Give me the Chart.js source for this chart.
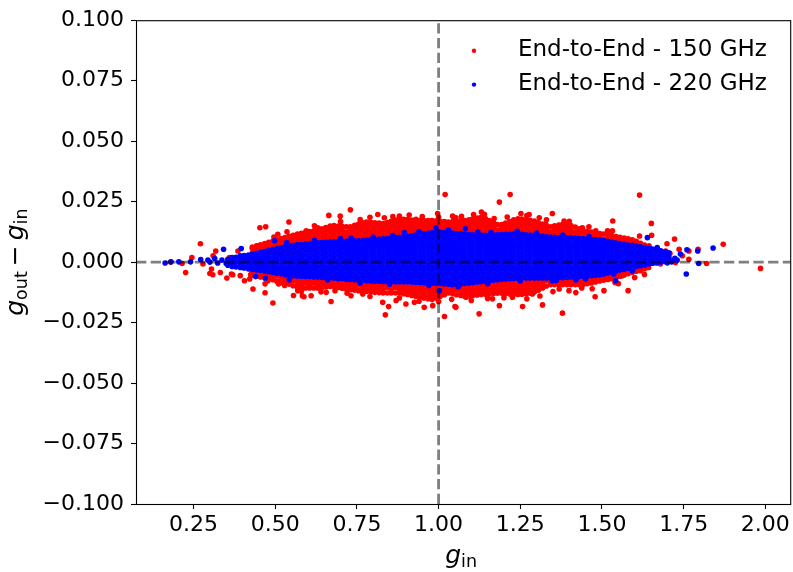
<!DOCTYPE html>
<html>
<head>
<meta charset="utf-8">
<title>g_out - g_in vs g_in</title>
<script src="https://cdn.jsdelivr.net/npm/chart.js@4/dist/chart.umd.min.js"></script>
<style>
  html, body { margin: 0; padding: 0; background: #fff; }
  #wrap { width: 793px; height: 572px; }
</style>
</head>
<body>
<div id="wrap"><canvas id="c" width="793" height="572"></canvas></div>
<script>
// Axis ranges and tick positions
const xRange = [0.074, 2.076];
const yRange = [-0.1, 0.1];
const xTickValues = [0.25, 0.50, 0.75, 1.00, 1.25, 1.50, 1.75, 2.00];
const yTickValues = [-0.100, -0.075, -0.050, -0.025, 0.000, 0.025, 0.050, 0.075, 0.100];

// Reference lines: ideal gain (g_in = 1) and zero residual
const refX = 1.0;
const refY = 0.0;

const seriesNames = ['End-to-End - 150 GHz', 'End-to-End - 220 GHz'];
const seriesColors = ['#ff0000', '#0000ff'];

// Residuals are stored in units of 1e-3. Dense part of each cloud is listed
// column by column as [g_in, [residuals...]]; isolated detectors as [g_in, residual].

// 220 GHz, dense band
const blueColumns = [
[0.355,[-1.3,0,1.2]],
[0.368,[-1.8,-1.0,1.0,1.9]],
[0.380,[-2.0,0,2.0]],
[0.393,[-2.2,-1.0,1.0,2.6]],
[0.405,[-2.4,-1.9,0,1.9,2.7]],
[0.418,[-2.8,-1.0,1.0,2.9]],
[0.430,[-3.0,-1.9,0,1.9,3.2]],
[0.443,[-3.3,-2.9,-1.0,1.0,2.9,3.6]],
[0.455,[-3.5,-1.9,0,1.9,3.9]],
[0.468,[-3.7,-2.9,-1.0,1.0,2.9,4.4]],
[0.480,[-4.0,-1.9,0,1.9,3.8,4.9]],
[0.493,[-4.3,-2.9,-1.0,1.0,2.9,4.8,5.2]],
[0.505,[-4.6,-3.8,-1.9,0,1.9,3.8,5.6]],
[0.518,[-4.8,-2.9,-1.0,1.0,2.9,4.8,5.9]],
[0.530,[-5.2,-3.8,-1.9,0,1.9,3.8,5.7,6.3]],
[0.543,[-5.3,-4.8,-2.9,-1.0,1.0,2.9,4.8,6.6]],
[0.555,[-5.6,-3.8,-1.9,0,1.9,3.8,5.7,6.9]],
[0.568,[-5.7,-4.8,-2.9,-1.0,1.0,2.9,4.8,6.7,7.2]],
[0.580,[-5.8,-3.8,-1.9,0,1.9,3.8,5.7,7.3]],
[0.593,[-6.0,-4.8,-2.9,-1.0,1.0,2.9,4.8,6.7,7.5]],
[0.605,[-6.0,-5.7,-3.8,-1.9,0,1.9,3.8,5.7,7.6]],
[0.618,[-6.2,-4.8,-2.9,-1.0,1.0,2.9,4.8,6.7,7.8]],
[0.630,[-6.2,-5.7,-3.8,-1.9,0,1.9,3.8,5.7,7.6,8.0]],
[0.643,[-6.3,-4.8,-2.9,-1.0,1.0,2.9,4.8,6.7,8.1]],
[0.655,[-6.4,-5.7,-3.8,-1.9,0,1.9,3.8,5.7,7.6,8.2]],
[0.668,[-6.5,-4.8,-2.9,-1.0,1.0,2.9,4.8,6.7,8.3]],
[0.680,[-6.6,-5.7,-3.8,-1.9,0,1.9,3.8,5.7,7.6,8.4]],
[0.693,[-6.9,-4.8,-2.9,-1.0,1.0,2.9,4.8,6.7,8.5]],
[0.705,[-6.8,-5.7,-3.8,-1.9,0,1.9,3.8,5.7,7.6,8.5]],
[0.718,[-7.1,-6.7,-4.8,-2.9,-1.0,1.0,2.9,4.8,6.7,8.6]],
[0.730,[-7.2,-5.7,-3.8,-1.9,0,1.9,3.8,5.7,7.6,8.7]],
[0.743,[-7.3,-6.7,-4.8,-2.9,-1.0,1.0,2.9,4.8,6.7,8.8]],
[0.755,[-7.5,-5.7,-3.8,-1.9,0,1.9,3.8,5.7,7.6,8.8]],
[0.768,[-7.6,-6.7,-4.8,-2.9,-1.0,1.0,2.9,4.8,6.7,8.9]],
[0.780,[-7.7,-5.7,-3.8,-1.9,0,1.9,3.8,5.7,7.6,9.0]],
[0.793,[-7.8,-6.7,-4.8,-2.9,-1.0,1.0,2.9,4.8,6.7,8.6,9.1]],
[0.805,[-7.9,-7.6,-5.7,-3.8,-1.9,0,1.9,3.8,5.7,7.6,9.3]],
[0.818,[-7.9,-6.7,-4.8,-2.9,-1.0,1.0,2.9,4.8,6.7,8.6,9.5]],
[0.830,[-8.0,-7.6,-5.7,-3.8,-1.9,0,1.9,3.8,5.7,7.6,9.6]],
[0.843,[-8.0,-6.7,-4.8,-2.9,-1.0,1.0,2.9,4.8,6.7,8.6,9.7]],
[0.855,[-8.0,-7.6,-5.7,-3.8,-1.9,0,1.9,3.8,5.7,7.6,9.5,9.9]],
[0.868,[-8.1,-6.7,-4.8,-2.9,-1.0,1.0,2.9,4.8,6.7,8.6,10.1]],
[0.880,[-8.1,-7.6,-5.7,-3.8,-1.9,0,1.9,3.8,5.7,7.6,9.5,10.3]],
[0.893,[-8.1,-6.7,-4.8,-2.9,-1.0,1.0,2.9,4.8,6.7,8.6,10.5]],
[0.905,[-8.1,-7.6,-5.7,-3.8,-1.9,0,1.9,3.8,5.7,7.6,9.5,10.7]],
[0.918,[-8.2,-6.7,-4.8,-2.9,-1.0,1.0,2.9,4.8,6.7,8.6,10.5,10.9]],
[0.930,[-8.3,-7.6,-5.7,-3.8,-1.9,0,1.9,3.8,5.7,7.6,9.5,11.2]],
[0.943,[-8.4,-6.7,-4.8,-2.9,-1.0,1.0,2.9,4.8,6.7,8.6,10.5,11.4]],
[0.955,[-8.5,-7.6,-5.7,-3.8,-1.9,0,1.9,3.8,5.7,7.6,9.5,11.4,11.7]],
[0.968,[-8.6,-6.7,-4.8,-2.9,-1.0,1.0,2.9,4.8,6.7,8.6,10.5,11.9]],
[0.980,[-8.7,-7.6,-5.7,-3.8,-1.9,0,1.9,3.8,5.7,7.6,9.5,11.4,12.1]],
[0.993,[-8.8,-6.7,-4.8,-2.9,-1.0,1.0,2.9,4.8,6.7,8.6,10.5,12.3]],
[1.005,[-8.8,-7.6,-5.7,-3.8,-1.9,0,1.9,3.8,5.7,7.6,9.5,11.4,12.3]],
[1.018,[-9.0,-8.6,-6.7,-4.8,-2.9,-1.0,1.0,2.9,4.8,6.7,8.6,10.5,12.2]],
[1.030,[-9.1,-7.6,-5.7,-3.8,-1.9,0,1.9,3.8,5.7,7.6,9.5,11.4,12.1]],
[1.043,[-9.2,-8.6,-6.7,-4.8,-2.9,-1.0,1.0,2.9,4.8,6.7,8.6,10.5,12.0]],
[1.055,[-9.2,-7.6,-5.7,-3.8,-1.9,0,1.9,3.8,5.7,7.6,9.5,11.4,11.8]],
[1.068,[-9.0,-8.6,-6.7,-4.8,-2.9,-1.0,1.0,2.9,4.8,6.7,8.6,10.5,11.7]],
[1.080,[-8.8,-7.6,-5.7,-3.8,-1.9,0,1.9,3.8,5.7,7.6,9.5,11.5]],
[1.093,[-8.6,-6.7,-4.8,-2.9,-1.0,1.0,2.9,4.8,6.7,8.6,10.5,11.4]],
[1.105,[-8.4,-7.6,-5.7,-3.8,-1.9,0,1.9,3.8,5.7,7.6,9.5,11.3]],
[1.118,[-8.2,-6.7,-4.8,-2.9,-1.0,1.0,2.9,4.8,6.7,8.6,10.5,11.2]],
[1.130,[-8.0,-7.6,-5.7,-3.8,-1.9,0,1.9,3.8,5.7,7.6,9.5,11.2]],
[1.143,[-7.9,-6.7,-4.8,-2.9,-1.0,1.0,2.9,4.8,6.7,8.6,10.5,11.1]],
[1.155,[-7.7,-5.7,-3.8,-1.9,0,1.9,3.8,5.7,7.6,9.5,11.1]],
[1.168,[-7.5,-6.7,-4.8,-2.9,-1.0,1.0,2.9,4.8,6.7,8.6,10.5,11.2]],
[1.180,[-7.3,-5.7,-3.8,-1.9,0,1.9,3.8,5.7,7.6,9.5,11.3]],
[1.193,[-7.1,-6.7,-4.8,-2.9,-1.0,1.0,2.9,4.8,6.7,8.6,10.5,11.4]],
[1.205,[-7.0,-5.7,-3.8,-1.9,0,1.9,3.8,5.7,7.6,9.5,11.5]],
[1.218,[-6.9,-4.8,-2.9,-1.0,1.0,2.9,4.8,6.7,8.6,10.5,11.5]],
[1.230,[-6.8,-5.7,-3.8,-1.9,0,1.9,3.8,5.7,7.6,9.5,11.6]],
[1.243,[-6.7,-4.8,-2.9,-1.0,1.0,2.9,4.8,6.7,8.6,10.5,11.6]],
[1.255,[-6.6,-5.7,-3.8,-1.9,0,1.9,3.8,5.7,7.6,9.5,11.5]],
[1.268,[-6.6,-4.8,-2.9,-1.0,1.0,2.9,4.8,6.7,8.6,10.5,11.3]],
[1.280,[-6.6,-5.7,-3.8,-1.9,0,1.9,3.8,5.7,7.6,9.5,11.2]],
[1.293,[-6.6,-4.8,-2.9,-1.0,1.0,2.9,4.8,6.7,8.6,10.5,11.0]],
[1.305,[-6.6,-5.7,-3.8,-1.9,0,1.9,3.8,5.7,7.6,9.5,10.8]],
[1.318,[-6.6,-4.8,-2.9,-1.0,1.0,2.9,4.8,6.7,8.6,10.7]],
[1.330,[-6.6,-5.7,-3.8,-1.9,0,1.9,3.8,5.7,7.6,9.5,10.5]],
[1.343,[-6.6,-4.8,-2.9,-1.0,1.0,2.9,4.8,6.7,8.6,10.4]],
[1.355,[-6.5,-5.7,-3.8,-1.9,0,1.9,3.8,5.7,7.6,9.5,10.3]],
[1.368,[-6.4,-4.8,-2.9,-1.0,1.0,2.9,4.8,6.7,8.6,10.2]],
[1.380,[-6.4,-5.7,-3.8,-1.9,0,1.9,3.8,5.7,7.6,9.5,10.1]],
[1.393,[-6.3,-4.8,-2.9,-1.0,1.0,2.9,4.8,6.7,8.6,10.0]],
[1.405,[-6.2,-5.7,-3.8,-1.9,0,1.9,3.8,5.7,7.6,9.9]],
[1.418,[-6.1,-4.8,-2.9,-1.0,1.0,2.9,4.8,6.7,8.6,9.8]],
[1.430,[-6.0,-5.7,-3.8,-1.9,0,1.9,3.8,5.7,7.6,9.7]],
[1.443,[-5.9,-4.8,-2.9,-1.0,1.0,2.9,4.8,6.7,8.6,9.6]],
[1.455,[-5.7,-3.8,-1.9,0,1.9,3.8,5.7,7.6,9.5]],
[1.468,[-5.5,-4.8,-2.9,-1.0,1.0,2.9,4.8,6.7,8.6,9.3]],
[1.480,[-5.4,-3.8,-1.9,0,1.9,3.8,5.7,7.6,9.2]],
[1.493,[-5.2,-4.8,-2.9,-1.0,1.0,2.9,4.8,6.7,8.6,9.1]],
[1.505,[-4.9,-3.8,-1.9,0,1.9,3.8,5.7,7.6,8.9]],
[1.518,[-4.5,-2.9,-1.0,1.0,2.9,4.8,6.7,8.6]],
[1.530,[-4.1,-3.8,-1.9,0,1.9,3.8,5.7,7.6,8.3]],
[1.543,[-3.7,-2.9,-1.0,1.0,2.9,4.8,6.7,8.0]],
[1.555,[-3.3,-1.9,0,1.9,3.8,5.7,7.6]],
[1.568,[-2.9,-1.0,1.0,2.9,4.8,6.7,7.4]],
[1.580,[-2.5,-1.9,0,1.9,3.8,5.7,7.1]],
[1.593,[-2.1,-1.0,1.0,2.9,4.8,6.9]],
[1.605,[-1.8,0,1.9,3.8,5.7,6.6]],
[1.618,[-1.5,-1.0,1.0,2.9,4.8,6.3]],
[1.630,[-1.2,0,1.9,3.8,5.7,6.0]],
[1.643,[-0.8,1.0,2.9,4.8,5.7]],
[1.655,[-0.5,0,1.9,3.8,5.4]],
[1.668,[-0.3,1.0,2.9,4.8,5.1]],
[1.680,[0,1.9,3.8,4.7]],
[1.693,[0.2,1.0,2.9,4.3]],
[1.705,[0.5,1.9,3.8]]
];

// 220 GHz, isolated detectors
const blueStray = [
[0.163,-0.4],[0.181,0.1],[0.205,0.1],[0.241,0.1],[0.272,1.1],[0.294,0.8],[0.300,0.0],
[0.315,1.5],[0.324,-0.4],[0.337,0.8],[0.342,5.3],[0.350,-0.6],[0.396,5.6],[0.440,-6.0],
[0.470,-6.6],[0.498,8.8],[0.535,8.1],[0.543,-7.3],[0.732,9.9],[0.895,12.2],[0.992,14.2],
[1.002,-11.8],[1.041,-9.3],[1.082,13.8],[1.160,12.2],[1.348,-7.7],[1.420,-7.3],[1.496,-4.9],
[1.536,-4.9],[1.542,-7.7],[1.567,-2.9],[1.593,-3.6],[1.623,-0.8],[1.639,10.1],[1.648,0.5],
[1.669,6.0],[1.676,1.6],[1.695,3.9],[1.700,-0.3],[1.713,0.1],[1.723,1.6],[1.730,0.8],
[1.740,3.3],[1.758,-4.9],[1.760,5.1],[1.793,4.6],[1.796,-0.6],[1.840,5.8],
[0.620,9.0],[0.700,9.6],[0.800,10.4],[0.860,11.0],[0.940,12.6],[1.030,13.2],[1.120,12.4],
[1.240,12.7],[1.300,12.0],[1.380,11.2],[1.460,10.6],[0.660,-7.4],[0.760,-8.6],[0.850,-9.1],
[0.970,-9.7],[1.060,-10.2],[1.150,-8.9],[1.250,-7.7],[1.360,-7.6],[1.450,-6.9]
];

// 150 GHz, dense band (the part not hidden under the 220 GHz band)
const redColumns = [
[0.430,[-5.4,-3.8,-1.9,1.9,3.8,5.7,6.2]],
[0.443,[-5.8,-4.8,-2.9,2.9,4.8,6.7]],
[0.455,[-6.2,-5.7,-3.8,-1.9,3.8,5.7,7.2]],
[0.468,[-6.6,-4.8,-2.9,2.9,4.8,6.7,7.7]],
[0.480,[-6.9,-5.7,-3.8,3.8,5.7,7.6,8.2]],
[0.493,[-7.3,-6.7,-4.8,-2.9,4.8,6.7,8.7]],
[0.505,[-7.9,-5.7,-3.8,3.8,5.7,7.6,9.2]],
[0.518,[-8.3,-6.7,-4.8,-2.9,4.8,6.7,8.6,9.7]],
[0.530,[-8.6,-7.6,-5.7,-3.8,5.7,7.6,9.5,10.2]],
[0.543,[-9.1,-8.6,-6.7,-4.8,4.8,6.7,8.6,10.7]],
[0.555,[-9.8,-7.6,-5.7,-3.8,5.7,7.6,9.5,11.1]],
[0.568,[-10.4,-8.6,-6.7,-4.8,6.7,8.6,10.5,11.6]],
[0.580,[-10.7,-9.5,-7.6,-5.7,-3.8,5.7,7.6,9.5,11.4,11.9]],
[0.593,[-10.7,-8.6,-6.7,-4.8,6.7,8.6,10.5,12.3]],
[0.605,[-10.7,-9.5,-7.6,-5.7,5.7,7.6,9.5,11.4,12.6]],
[0.618,[-10.7,-8.6,-6.7,-4.8,6.7,8.6,10.5,12.4,12.9]],
[0.630,[-10.7,-9.5,-7.6,-5.7,7.6,9.5,11.4,13.2]],
[0.643,[-10.5,-8.6,-6.7,-4.8,6.7,8.6,10.5,12.4,13.8]],
[0.655,[-10.3,-9.5,-7.6,-5.7,7.6,9.5,11.4,13.3,14.3]],
[0.668,[-10.1,-8.6,-6.7,-4.8,6.7,8.6,10.5,12.4,14.3,14.9]],
[0.680,[-10.1,-9.5,-7.6,-5.7,7.6,9.5,11.4,13.3,15.1]],
[0.693,[-10.5,-8.6,-6.7,6.7,8.6,10.5,12.4,14.3,14.9]],
[0.705,[-10.8,-9.5,-7.6,-5.7,7.6,9.5,11.4,13.3,14.8]],
[0.718,[-11.2,-10.5,-8.6,-6.7,6.7,8.6,10.5,12.4,14.6]],
[0.730,[-11.4,-9.5,-7.6,-5.7,7.6,9.5,11.4,13.3,14.6]],
[0.743,[-11.6,-10.5,-8.6,-6.7,8.6,10.5,12.4,14.3,15.2]],
[0.755,[-11.8,-9.5,-7.6,-5.7,7.6,9.5,11.4,13.3,15.2,15.7]],
[0.768,[-12.0,-10.5,-8.6,-6.7,8.6,10.5,12.4,14.3,16.2]],
[0.780,[-12.1,-11.4,-9.5,-7.6,-5.7,7.6,9.5,11.4,13.3,15.2,16.6]],
[0.793,[-12.3,-10.5,-8.6,-6.7,8.6,10.5,12.4,14.3,16.4]],
[0.805,[-12.5,-11.4,-9.5,-7.6,7.6,9.5,11.4,13.3,15.2,16.2]],
[0.818,[-12.6,-10.5,-8.6,-6.7,8.6,10.5,12.4,14.3,16.1]],
[0.830,[-12.8,-11.4,-9.5,-7.6,9.5,11.4,13.3,15.2,15.9]],
[0.843,[-12.8,-10.5,-8.6,-6.7,8.6,10.5,12.4,14.3,16.4]],
[0.855,[-12.8,-11.4,-9.5,-7.6,9.5,11.4,13.3,15.2,16.9]],
[0.868,[-12.8,-10.5,-8.6,-6.7,8.6,10.5,12.4,14.3,16.2,17.4]],
[0.880,[-12.8,-11.4,-9.5,-7.6,9.5,11.4,13.3,15.2,17.1,17.9]],
[0.893,[-13.1,-12.4,-10.5,-8.6,-6.7,8.6,10.5,12.4,14.3,16.2,17.7]],
[0.905,[-13.4,-11.4,-9.5,-7.6,9.5,11.4,13.3,15.2,17.1,17.6]],
[0.918,[-13.8,-12.4,-10.5,-8.6,-6.7,10.5,12.4,14.3,16.2,17.4]],
[0.930,[-14.1,-13.3,-11.4,-9.5,-7.6,9.5,11.4,13.3,15.2,17.2]],
[0.943,[-14.4,-12.4,-10.5,-8.6,-6.7,10.5,12.4,14.3,16.2,17.2]],
[0.955,[-14.8,-13.3,-11.4,-9.5,-7.6,11.4,13.3,15.2,17.2]],
[0.968,[-15.1,-14.3,-12.4,-10.5,-8.6,10.5,12.4,14.3,16.2,17.2]],
[0.980,[-15.5,-13.3,-11.4,-9.5,-7.6,11.4,13.3,15.2,17.2]],
[0.993,[-14.8,-14.3,-12.4,-10.5,-8.6,10.5,12.4,14.3,16.2,17.1]],
[1.005,[-14.1,-13.3,-11.4,-9.5,-7.6,11.4,13.3,15.2,16.9]],
[1.018,[-13.5,-12.4,-10.5,-8.6,10.5,12.4,14.3,16.2,16.8]],
[1.030,[-12.8,-11.4,-9.5,-7.6,11.4,13.3,15.2,16.6]],
[1.043,[-13.1,-12.4,-10.5,-8.6,10.5,12.4,14.3,16.2,16.8]],
[1.055,[-13.5,-11.4,-9.5,-7.6,11.4,13.3,15.2,16.9]],
[1.068,[-13.8,-12.4,-10.5,-8.6,10.5,12.4,14.3,16.2,17.1]],
[1.080,[-14.1,-13.3,-11.4,-9.5,-7.6,11.4,13.3,15.2,17.2]],
[1.093,[-14.0,-12.4,-10.5,-8.6,-6.7,10.5,12.4,14.3,16.2,17.5]],
[1.105,[-13.8,-13.3,-11.4,-9.5,-7.6,9.5,11.4,13.3,15.2,17.1,17.9]],
[1.118,[-13.6,-12.4,-10.5,-8.6,-6.7,10.5,12.4,14.3,16.2,18.2]],
[1.130,[-13.4,-11.4,-9.5,-7.6,9.5,11.4,13.3,15.2,17.1,18.5]],
[1.143,[-13.3,-12.4,-10.5,-8.6,-6.7,10.5,12.4,14.3,16.2,18.0]],
[1.155,[-13.2,-11.4,-9.5,-7.6,9.5,11.4,13.3,15.2,17.2]],
[1.168,[-13.0,-12.4,-10.5,-8.6,-6.7,10.5,12.4,14.3,16.4]],
[1.180,[-12.9,-11.4,-9.5,-7.6,-5.7,9.5,11.4,13.3,15.5]],
[1.193,[-12.9,-12.4,-10.5,-8.6,-6.7,10.5,12.4,14.3,15.5]],
[1.205,[-13.0,-11.4,-9.5,-7.6,-5.7,9.5,11.4,13.3,15.2,16.1]],
[1.218,[-13.2,-12.4,-10.5,-8.6,-6.7,10.5,12.4,14.3,16.2,16.8]],
[1.230,[-13.3,-11.4,-9.5,-7.6,-5.7,11.4,13.3,15.2,17.1,17.5]],
[1.243,[-13.4,-12.4,-10.5,-8.6,-6.7,-4.8,10.5,12.4,14.3,16.2,17.9]],
[1.255,[-13.3,-11.4,-9.5,-7.6,-5.7,9.5,11.4,13.3,15.2,17.1,17.8]],
[1.268,[-13.1,-12.4,-10.5,-8.6,-6.7,-4.8,10.5,12.4,14.3,16.2,17.5]],
[1.280,[-12.9,-11.4,-9.5,-7.6,-5.7,9.5,11.4,13.3,15.2,17.3]],
[1.293,[-12.4,-10.5,-8.6,-6.7,-4.8,10.5,12.4,14.3,16.2,17.0]],
[1.305,[-11.6,-11.4,-9.5,-7.6,-5.7,9.5,11.4,13.3,15.2,16.4]],
[1.318,[-10.7,-10.5,-8.6,-6.7,-4.8,10.5,12.4,14.3,15.7]],
[1.330,[-9.9,-7.6,-5.7,9.5,11.4,13.3,15.0]],
[1.343,[-9.3,-8.6,-6.7,-4.8,8.6,10.5,12.4,14.6]],
[1.355,[-9.3,-7.6,-5.7,9.5,11.4,13.3,15.0]],
[1.368,[-9.3,-8.6,-6.7,-4.8,8.6,10.5,12.4,14.3,15.3]],
[1.380,[-9.3,-7.6,-5.7,9.5,11.4,13.3,15.2,15.6]],
[1.393,[-9.3,-8.6,-6.7,-4.8,8.6,10.5,12.4,14.3,15.7]],
[1.405,[-9.3,-7.6,-5.7,9.5,11.4,13.3,15.1]],
[1.418,[-9.3,-8.6,-6.7,-4.8,8.6,10.5,12.4,14.5]],
[1.430,[-9.3,-7.6,-5.7,9.5,11.4,13.3,13.8]],
[1.443,[-9.2,-8.6,-6.7,-4.8,8.6,10.5,12.4,13.0]],
[1.455,[-8.9,-7.6,-5.7,-3.8,7.6,9.5,11.4,12.7]],
[1.468,[-8.6,-6.7,-4.8,8.6,10.5,12.4]],
[1.480,[-8.2,-7.6,-5.7,-3.8,7.6,9.5,11.4,12.1]],
[1.493,[-7.8,-6.7,-4.8,8.6,10.5,11.8]],
[1.505,[-7.5,-5.7,-3.8,7.6,9.5,11.6]],
[1.518,[-7.2,-6.7,-4.8,-2.9,6.7,8.6,10.5,11.4]],
[1.530,[-6.9,-5.7,-3.8,7.6,9.5,11.0]],
[1.543,[-6.4,-4.8,-2.9,6.7,8.6,10.6]],
[1.555,[-5.8,-3.8,-1.9,5.7,7.6,9.5,10.3]],
[1.568,[-5.3,-4.8,-2.9,-1.0,6.7,8.6,9.9]],
[1.580,[-4.8,-3.8,-1.9,5.7,7.6,9.6]],
[1.593,[-4.2,-2.9,-1.0,6.7,8.6,9.2]],
[1.605,[-3.8,-1.9,5.7,7.6,8.6]],
[1.618,[-3.3,-2.9,-1.0,4.8,6.7,7.8]],
[1.630,[-2.8,-1.9,0,5.7,7.1]],
[1.643,[-2.2,-1.0,4.8,6.2]]
];

// 150 GHz, isolated detectors
const redStray = [
[0.180,0.0],[0.215,-0.6],[0.226,-4.3],[0.245,1.9],[0.271,7.6],[0.279,-0.8],[0.300,-4.7],
[0.305,-2.9],[0.309,-5.2],[0.310,2.6],[0.318,4.6],[0.332,-4.3],[0.352,-6.6],[0.360,1.9],
[0.366,-4.9],[0.370,-5.2],[0.386,4.6],[0.393,-5.6],[0.406,-7.7],[0.422,-7.0],[0.425,-5.3],
[0.427,-4.9],[0.432,-11.1],[0.442,2.6],[0.447,6.7],[0.453,14.2],[0.469,-9.0],[0.469,-12.7],
[0.471,14.6],[0.473,7.4],[0.478,-7.7],[0.493,-16.9],[0.493,6.0],[0.496,10.4],[0.498,8.5],
[0.508,11.5],[0.510,-9.0],[0.513,-8.8],[0.529,-9.7],[0.536,12.5],[0.542,16.6],[0.544,6.7],
[0.556,-13.8],[0.569,-11.8],[0.572,-9.7],[0.580,-12.1],[0.583,-13.9],[0.588,-14.3],
[0.595,12.9],[0.610,-13.9],[0.630,14.2],[0.656,-12.5],[0.664,19.3],[0.671,-16.3],
[0.683,-11.8],[0.699,19.0],[0.730,21.6],[0.732,-13.9],[0.757,15.6],[0.768,-13.2],
[0.778,16.3],[0.814,19.7],[0.829,-16.6],[0.834,18.3],[0.837,-21.8],[0.847,-18.4],
[0.870,-15.9],[0.880,19.0],[0.900,-17.3],[0.926,-16.6],[0.931,17.7],[0.956,-18.7],
[0.982,-18.0],[0.997,20.1],[1.018,-22.5],[1.020,27.9],[1.043,19.0],[1.050,-18.4],
[1.053,18.3],[1.053,-18.7],[1.084,-14.5],[1.107,19.7],[1.124,-21.4],[1.131,20.7],
[1.165,-15.2],[1.186,24.8],[1.186,-18.0],[1.219,27.9],[1.226,-14.5],[1.252,20.1],
[1.257,-18.4],[1.277,19.7],[1.287,-13.2],[1.308,18.3],[1.318,-17.7],[1.328,15.6],
[1.348,20.1],[1.369,-11.1],[1.379,-21.1],[1.384,17.0],[1.399,-11.8],[1.438,-10.7],
[1.440,14.2],[1.479,-14.3],[1.481,12.9],[1.506,-11.8],[1.517,12.9],[1.532,12.9],
[1.533,17.0],[1.540,-8.4],[1.562,-5.6],[1.580,-11.8],[1.593,7.4],[1.615,27.7],[1.615,10.8],
[1.618,-3.6],[1.623,-2.2],[1.644,6.7],[1.651,16.0],[1.652,11.1],[1.664,-0.2],[1.674,4.6],
[1.679,-0.8],[1.695,4.6],[1.699,7.6],[1.708,3.5],[1.715,0.5],[1.722,9.5],[1.725,-0.2],
[1.736,5.3],[1.746,2.6],[1.766,1.2],[1.766,4.6],[1.794,5.3],[1.820,-0.6],[1.871,7.4],
[1.985,-2.6],
[0.620,15.0],[0.700,16.8],[0.760,17.6],[0.790,18.5],[0.860,18.8],[0.910,19.5],[0.950,18.8],
[1.000,18.6],[1.070,18.9],[1.140,19.8],[1.170,18.0],[1.210,18.6],[1.270,19.2],[1.330,17.5],
[1.400,16.9],[1.460,14.6],[0.640,-12.3],[0.720,-12.9],[0.790,-14.2],[0.880,-14.8],
[0.940,-16.2],[1.000,-16.3],[1.040,-15.4],[1.100,-15.9],[1.150,-15.0],[1.200,-14.7],
[1.270,-15.2],[1.310,-14.0],[1.350,-12.2],[1.420,-12.6],[1.470,-11.0],[1.550,-8.9],
[1.600,-6.4],[1.630,-5.1]
];

// Turn the listings into {x, y} points (residuals back to plain units)
function toPoints(columns, stray) {
  const pts = [];
  columns.forEach(([gin, resid]) => resid.forEach(r => pts.push({ x: gin, y: r / 1000 })));
  stray.forEach(([gin, r]) => pts.push({ x: gin, y: r / 1000 }));
  return pts;
}

const FONT = '"DejaVu Sans", "Liberation Sans", sans-serif';
const TITLE_MAIN = 'italic 25px ' + FONT;
const TITLE_SUB = '17.5px ' + FONT;
const TITLE_OP = '25px ' + FONT;

// Dashed reference lines on top of the markers, then the axes frame
const overlayPlugin = {
  id: 'overlay',
  afterDatasetsDraw(chart) {
    const { ctx, chartArea: a, scales } = chart;
    const px = scales.x.getPixelForValue(refX);
    const py = scales.y.getPixelForValue(refY);
    ctx.save();
    ctx.strokeStyle = 'rgba(0,0,0,0.5)';
    ctx.lineWidth = 2.8;
    ctx.lineCap = 'butt';
    ctx.setLineDash([10.3, 4.4]);
    ctx.beginPath();
    ctx.moveTo(a.left, py);
    ctx.lineTo(a.right, py);
    ctx.stroke();
    ctx.beginPath();
    ctx.moveTo(px, a.bottom);
    ctx.lineTo(px, a.top);
    ctx.stroke();
    ctx.setLineDash([]);
    ctx.strokeStyle = '#000';
    ctx.lineWidth = 1.1;
    ctx.strokeRect(a.left + 0.5, a.top + 0.5, a.right - a.left, a.bottom - a.top);
    ctx.restore();
  }
};

// Draw a run of text pieces (main symbol + subscripts) centred on a point
function drawRuns(ctx, runs, cx, cy, angle) {
  ctx.save();
  ctx.translate(cx, cy);
  ctx.rotate(angle);
  ctx.textBaseline = 'alphabetic';
  ctx.textAlign = 'left';
  ctx.fillStyle = '#000';
  let total = 0;
  runs.forEach(r => { ctx.font = r.font; r.w = ctx.measureText(r.text).width + (r.gap || 0) * 2; total += r.w; });
  let x = -total / 2;
  runs.forEach(r => {
    ctx.font = r.font;
    ctx.fillText(r.text, x + (r.gap || 0), r.dy || 0);
    x += r.w;
  });
  ctx.restore();
}

// Axis titles: g_in below, g_out − g_in rotated on the left
const titlesPlugin = {
  id: 'axisTitles',
  afterDraw(chart) {
    const { ctx, chartArea: a } = chart;
    drawRuns(ctx, [
      { text: 'g', font: TITLE_MAIN },
      { text: 'in', font: TITLE_SUB, dy: 4 }
    ], (a.left + a.right) / 2 - 2, 563, 0);
    drawRuns(ctx, [
      { text: 'g', font: TITLE_MAIN },
      { text: 'out', font: TITLE_SUB, dy: 4 },
      { text: '\u2212', font: TITLE_OP, gap: 5 },
      { text: 'g', font: TITLE_MAIN },
      { text: 'in', font: TITLE_SUB, dy: 4 }
    ], 23, (a.top + a.bottom) / 2, -Math.PI / 2);
  }
};

// Legend inside the axes, upper right, without a frame
const legendPlugin = {
  id: 'innerLegend',
  afterDraw(chart) {
    const { ctx } = chart;
    const rows = [50.7, 84.6];
    ctx.save();
    ctx.font = '23px ' + FONT;
    ctx.textBaseline = 'middle';
    ctx.textAlign = 'left';
    seriesNames.forEach((name, i) => {
      ctx.fillStyle = seriesColors[i];
      ctx.beginPath();
      ctx.arc(474, rows[i], 2.2, 0, Math.PI * 2);
      ctx.fill();
      ctx.fillStyle = '#000';
      ctx.fillText(name, 518, rows[i] - 1);
    });
    ctx.restore();
  }
};

const fmtY = v => (v < 0 ? '\u2212' : '') + Math.abs(v).toFixed(3);
const fmtX = v => v.toFixed(2);

new Chart(document.getElementById('c'), {
  type: 'scatter',
  data: {
    datasets: [
      {
        label: seriesNames[0],
        data: toPoints(redColumns, redStray),
        backgroundColor: seriesColors[0],
        borderWidth: 0,
        pointRadius: 2.8,
        pointHoverRadius: 2.8,
        order: 2
      },
      {
        label: seriesNames[1],
        data: toPoints(blueColumns, blueStray),
        backgroundColor: seriesColors[1],
        borderWidth: 0,
        pointRadius: 2.8,
        pointHoverRadius: 2.8,
        order: 1
      }
    ]
  },
  options: {
    responsive: false,
    animation: false,
    devicePixelRatio: 1,
    layout: { padding: { left: 0, top: 18, right: 1, bottom: 0 } },
    plugins: {
      legend: { display: false },
      tooltip: { enabled: false }
    },
    scales: {
      x: {
        type: 'linear',
        min: xRange[0],
        max: xRange[1],
        afterBuildTicks: s => { s.ticks = xTickValues.map(v => ({ value: v })); },
        afterFit: s => { s.height = 68; },
        ticks: {
          callback: v => fmtX(v),
          color: '#000',
          font: { family: FONT, size: 22 },
          padding: 3,
          maxRotation: 0,
          autoSkip: false
        },
        grid: { drawOnChartArea: false, drawTicks: true, tickLength: 5, tickColor: '#000', tickWidth: 1.1 },
        border: { display: false }
      },
      y: {
        type: 'linear',
        min: yRange[0],
        max: yRange[1],
        afterBuildTicks: s => { s.ticks = yTickValues.map(v => ({ value: v })); },
        afterFit: s => { s.width = 136; },
        ticks: {
          callback: v => fmtY(v),
          color: '#000',
          font: { family: FONT, size: 22 },
          padding: 7,
          autoSkip: false
        },
        grid: { drawOnChartArea: false, drawTicks: true, tickLength: 5, tickColor: '#000', tickWidth: 1.1 },
        border: { display: false }
      }
    }
  },
  plugins: [overlayPlugin, titlesPlugin, legendPlugin]
});
</script>
</body>
</html>
